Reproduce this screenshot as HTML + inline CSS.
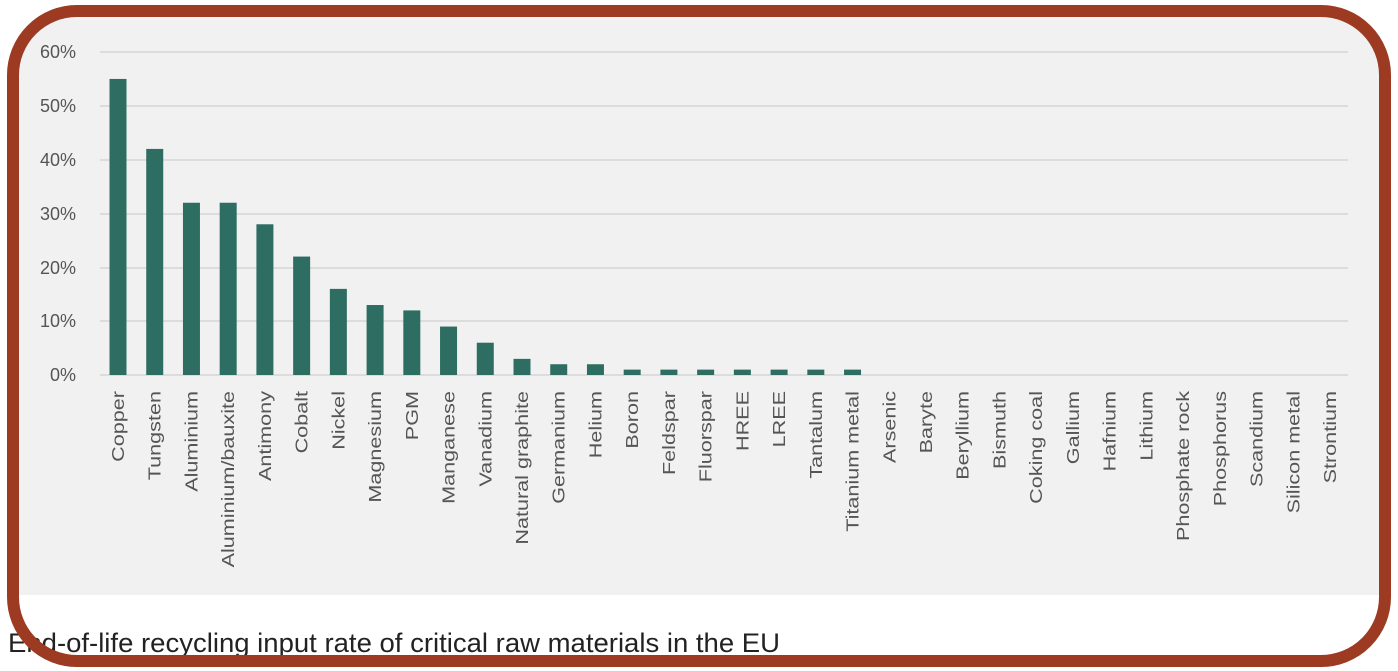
<!DOCTYPE html>
<html><head><meta charset="utf-8"><style>
html,body{margin:0;padding:0;background:#fff;}
body{width:1398px;height:671px;position:relative;overflow:hidden;font-family:"Liberation Sans",sans-serif;}
</style></head><body>
<svg width="1398" height="671" viewBox="0 0 1398 671" xmlns="http://www.w3.org/2000/svg" style="position:absolute;left:0;top:0">
<defs><clipPath id="c"><rect x="13" y="11" width="1372" height="650" rx="64" ry="64"/></clipPath></defs>
<rect x="0" y="0" width="1398" height="671" fill="#fff"/>
<rect x="12" y="10" width="1375" height="585" fill="#f1f1f1" clip-path="url(#c)"/>
<g stroke="#dcdcdc" stroke-width="2">
<line x1="100" y1="52" x2="1348" y2="52"/>
<line x1="100" y1="106" x2="1348" y2="106"/>
<line x1="100" y1="160" x2="1348" y2="160"/>
<line x1="100" y1="214" x2="1348" y2="214"/>
<line x1="100" y1="268" x2="1348" y2="268"/>
<line x1="100" y1="321" x2="1348" y2="321"/>
<line x1="100" y1="375" x2="1348" y2="375"/>
</g>
<g font-size="18" fill="#555" text-anchor="end" font-family="Liberation Sans, sans-serif">
<text x="76" y="58">60%</text>
<text x="76" y="112">50%</text>
<text x="76" y="166">40%</text>
<text x="76" y="220">30%</text>
<text x="76" y="274">20%</text>
<text x="76" y="327">10%</text>
<text x="76" y="381">0%</text>
</g>
<g id="bars" fill="#2e6e62"></g>
<g id="labels" font-size="18" fill="#555" text-anchor="end" font-family="Liberation Sans, sans-serif"></g>
<text x="8" y="652" font-size="27" fill="#222" font-family="Liberation Sans, sans-serif" textLength="772" lengthAdjust="spacingAndGlyphs">End-of-life recycling input rate of critical raw materials in the EU</text>
<rect x="13" y="11" width="1372" height="650" rx="64" ry="64" fill="none" stroke="#9c3b22" stroke-width="12"/>
</svg>
<script>
var names=["Copper","Tungsten","Aluminium","Aluminium/bauxite","Antimony","Cobalt","Nickel","Magnesium","PGM","Manganese","Vanadium","Natural graphite","Germanium","Helium","Boron","Feldspar","Fluorspar","HREE","LREE","Tantalum","Titanium metal","Arsenic","Baryte","Beryllium","Bismuth","Coking coal","Gallium","Hafnium","Lithium","Phosphate rock","Phosphorus","Scandium","Silicon metal","Strontium"];
var vals=[55,42,32,32,28,22,16,13,12,9,6,3,2,2,1,1,1,1,1,1,1,0,0,0,0,0,0,0,0,0,0,0,0,0];
var ns="http://www.w3.org/2000/svg";
var b=document.getElementById("bars"),l=document.getElementById("labels");
var step=(1330-118)/33;
for(var i=0;i<names.length;i++){
 var cx=118+i*step;
 if(vals[i]>0){var h=vals[i]*5.383;var r=document.createElementNS(ns,"rect");
 r.setAttribute("x",cx-8.5);r.setAttribute("y",375-h);r.setAttribute("width",17);r.setAttribute("height",h);b.appendChild(r);}
 var t=document.createElementNS(ns,"text");
 t.setAttribute("transform","translate("+(cx+6)+",391) rotate(-90) scale(1.2,1)");
 t.textContent=names[i];l.appendChild(t);
}
</script>
</body></html>
